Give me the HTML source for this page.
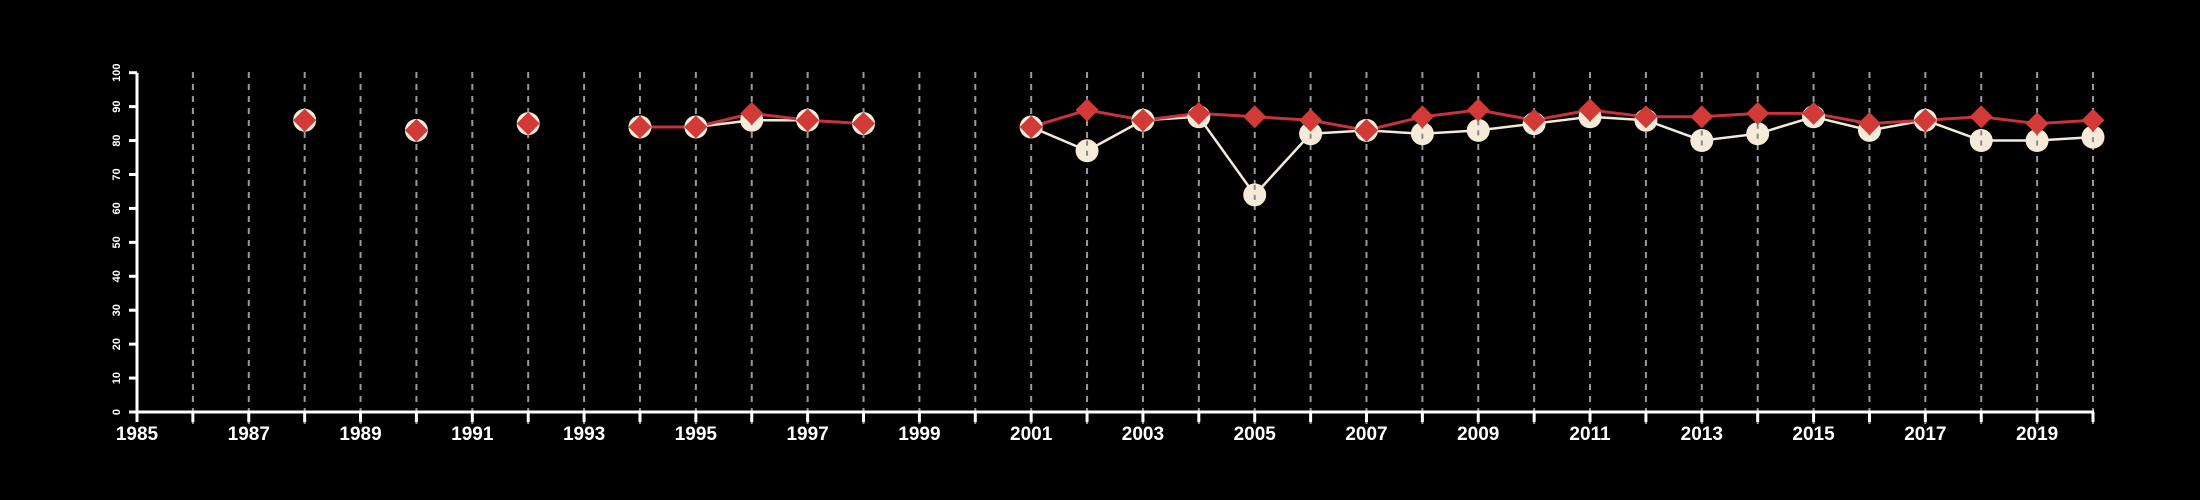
<!DOCTYPE html>
<html><head><meta charset="utf-8"><style>
html,body{margin:0;padding:0;background:#000;}
svg{display:block;font-family:"Liberation Sans",sans-serif;}
</style></head><body>
<svg id="chart" width="2200" height="500" viewBox="0 0 2200 500" xmlns="http://www.w3.org/2000/svg">
<rect width="2200" height="500" fill="#000"/>
<g id="grid"></g>
<g id="axes"></g>
<g id="series"></g>
</svg>
<script>
const years = [1988,1990,1992,1994,1995,1996,1997,1998,2001,2002,2003,2004,2005,2006,2007,2008,2009,2010,2011,2012,2013,2014,2015,2016,2017,2018,2019,2020];
const whiteValues = [86,83,85,84,84,86,86,85,84,77,86,87,64,82,83,82,83,85,87,86,80,82,87,83,86,80,80,81];
const redValues = [86,83,85,84,84,88,86,85,84,89,86,88,87,86,83,87,89,86,89,87,87,88,88,85,86,87,85,86];
const yTicks = [0,10,20,30,40,50,60,70,80,90,100];
const xTickLabels = [1985,1987,1989,1991,1993,1995,1997,1999,2001,2003,2005,2007,2009,2011,2013,2015,2017,2019];

const NS='http://www.w3.org/2000/svg';
const x = yr => 137 + (yr-1985)*(2093-137)/35;
const y = v => 412 - v*(412-72.7)/100;
function mk(tag, attrs, parent){const e=document.createElementNS(NS,tag);for(const k in attrs)e.setAttribute(k,attrs[k]);parent.appendChild(e);return e;}
const grid=document.getElementById('grid'), axes=document.getElementById('axes'), series=document.getElementById('series');

for(let yr=1986; yr<=2020; yr++){
  const l=mk('line',{x1:x(yr),x2:x(yr),y1:72,y2:424,stroke:'#9a9a9a','stroke-width':2,'stroke-dasharray':'6,6'},grid);
  
  
}
const ya=mk('line',{x1:137,x2:137,y1:72.7,y2:412,stroke:'#fff','stroke-width':3},axes);


const xa=mk('line',{x1:135.5,x2:x(2020)+1,y1:412,y2:412,stroke:'#fff','stroke-width':3},axes);


yTicks.forEach(v=>{
  const t=mk('line',{x1:129,x2:137,y1:y(v),y2:y(v),stroke:'#fff','stroke-width':3},axes);
  
  
  const tx=mk('text',{x:0,y:0,fill:'#fff','font-size':11,'font-weight':'bold','text-anchor':'middle',transform:`translate(120,${y(v)}) rotate(-90)`},axes);
  tx.textContent=v;
  
  
});
for(let yr=1985; yr<=2020; yr++){
  const t=mk('line',{x1:x(yr),x2:x(yr),y1:412,y2:422,stroke:'#fff','stroke-width':3},axes);
  
  
}
xTickLabels.forEach(yr=>{
  const tx=mk('text',{x:x(yr),y:440,fill:'#fff','font-size':19,'font-weight':'bold','text-anchor':'middle'},axes);
  tx.textContent=yr;
  
  
});
function lines(vals,color,w,name){
  for(let i=1;i<years.length;i++){
    if(years[i]-years[i-1]!==1) continue;
    const l=mk('line',{x1:x(years[i-1]),y1:y(vals[i-1]),x2:x(years[i]),y2:y(vals[i]),stroke:color,'stroke-width':w},series);
    
    
  }
}
lines(whiteValues,'#f5ead8',2.5,'white-series-line');
lines(redValues,'#c8323a',3,'red-series-line');
years.forEach((yr,i)=>{
  const c=mk('circle',{cx:x(yr),cy:y(whiteValues[i]),r:11.5,fill:'#f6ead8'},series);
  
  
  const d=mk('line',{x1:x(yr),x2:x(yr),y1:y(whiteValues[i])-10,y2:y(whiteValues[i])+10,stroke:'#8a8a8a','stroke-width':2,'stroke-dasharray':'5,5'},series);
  
  
});
years.forEach((yr,i)=>{
  const cx=x(yr), cy=y(redValues[i]), s=11.5;
  const p=mk('polygon',{points:`${cx},${cy-s} ${cx+s},${cy} ${cx},${cy+s} ${cx-s},${cy}`,fill:'#d13a36'},series);
  
  
});
</script>
</body></html>
